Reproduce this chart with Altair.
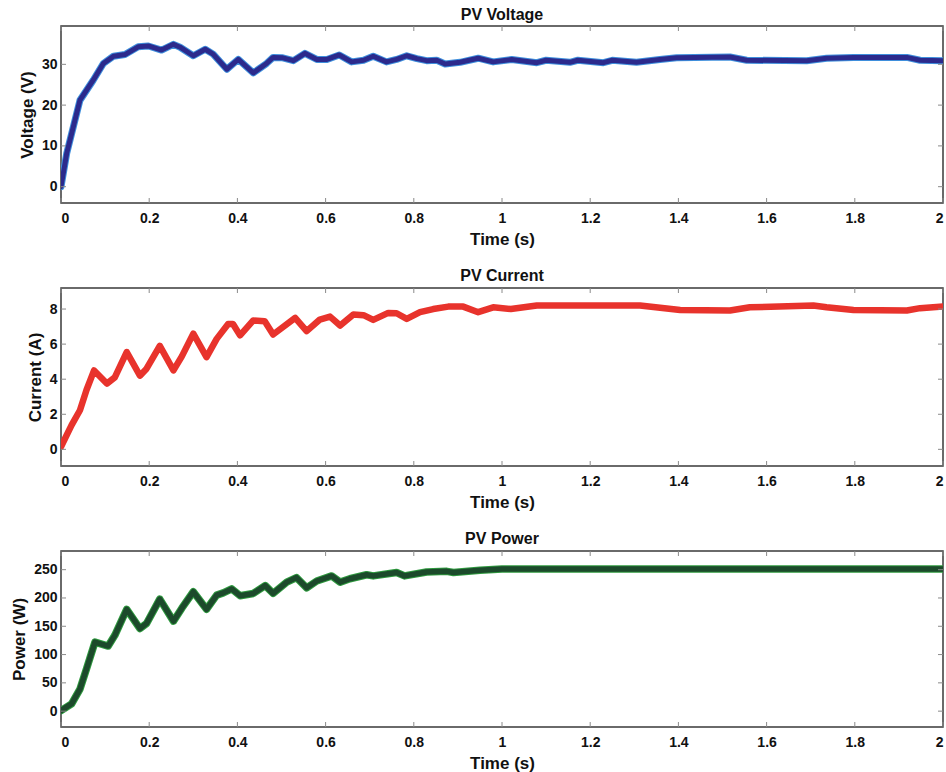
import altair as alt
import pandas as pd

# ---- data ----
t_v = [0, 0.013, 0.043, 0.073, 0.096, 0.119, 0.145, 0.175, 0.198, 0.228, 0.255, 0.27, 0.3, 0.327, 0.345,
       0.376, 0.402, 0.436, 0.466, 0.481, 0.503, 0.527, 0.553, 0.58, 0.603, 0.631, 0.659, 0.686, 0.708,
       0.738, 0.761, 0.784, 0.807, 0.829, 0.852, 0.871, 0.905, 0.946, 0.98, 1.022, 1.079, 1.1, 1.154,
       1.172, 1.23, 1.25, 1.305, 1.358, 1.396, 1.517, 1.555, 1.691, 1.736, 1.797, 1.918, 1.948, 2.0]
voltage = [0, 8.2, 21.2, 26.1, 30.2, 32.0, 32.4, 34.3, 34.5, 33.5, 34.9, 34.2, 32.1, 33.7, 32.5,
           28.8, 31.2, 27.9, 30.2, 31.7, 31.6, 30.9, 32.7, 31.2, 31.2, 32.3, 30.6, 31.0, 32.0,
           30.6, 31.2, 32.1, 31.4, 30.9, 31.0, 30.1, 30.5, 31.5, 30.6, 31.2, 30.4, 31.0, 30.5,
           31.0, 30.4, 31.0, 30.5, 31.2, 31.6, 31.8, 31.0, 30.9, 31.5, 31.7, 31.7, 31.0, 30.9]

t_i = [0, 0.024, 0.043, 0.058, 0.075, 0.104, 0.122, 0.149, 0.179, 0.194, 0.224, 0.255, 0.274, 0.3,
       0.33, 0.353, 0.379, 0.39, 0.406, 0.436, 0.462, 0.481, 0.531, 0.557, 0.587, 0.61, 0.633, 0.663,
       0.686, 0.708, 0.742, 0.761, 0.784, 0.814, 0.844, 0.878, 0.912, 0.946, 0.98, 1.02, 1.079, 1.22,
       1.313, 1.404, 1.517, 1.562, 1.706, 1.736, 1.797, 1.918, 1.948, 2.0]
current = [0.15, 1.38, 2.23, 3.4, 4.5, 3.75, 4.1, 5.55, 4.2, 4.6, 5.9, 4.5, 5.3, 6.6,
           5.26, 6.3, 7.15, 7.15, 6.5, 7.35, 7.3, 6.55, 7.5, 6.74, 7.4, 7.57, 7.06, 7.69,
           7.65, 7.38, 7.78, 7.76, 7.44, 7.82, 8.0, 8.14, 8.14, 7.82, 8.1, 8.0, 8.2, 8.2,
           8.2, 7.95, 7.92, 8.1, 8.2, 8.1, 7.95, 7.92, 8.05, 8.15]

t_p = [0, 0.024, 0.043, 0.058, 0.077, 0.107, 0.122, 0.149, 0.179, 0.194, 0.224, 0.255, 0.274, 0.3,
       0.33, 0.353, 0.368, 0.387, 0.406, 0.436, 0.463, 0.481, 0.512, 0.534, 0.557, 0.58, 0.614,
       0.633, 0.655, 0.693, 0.708, 0.761, 0.779, 0.829, 0.875, 0.89, 0.95, 1.0, 1.5, 2.0]
power = [1, 13, 39, 75, 122, 115, 134, 180, 146, 155, 198, 159, 182, 211,
         180, 205, 209, 216, 204, 208, 222, 208, 228, 236, 218, 230, 239,
         228, 234, 241, 239, 245, 239, 246, 247, 245, 249, 251, 251, 251]

x_ticks = [0, 0.2, 0.4, 0.6, 0.8, 1, 1.2, 1.4, 1.6, 1.8, 2]
v_ticks = [0, 10, 20, 30]
i_ticks = [0, 2, 4, 6, 8]
p_ticks = [0, 50, 100, 150, 200, 250]

FONT = "Liberation Sans, Arial"
W = 882
TICK_COLOR = "#8a8a8a"
TL = 5  # inward tick length in px


def panel(t, y, title, ytitle, ydomain, yticks, colors, widths, h, toff):
    df = pd.DataFrame({"t": t, "y": y})
    xscale = alt.Scale(domain=[0, 2], nice=False, zero=False)
    yscale = alt.Scale(domain=ydomain, nice=False, zero=False)
    xaxis = alt.Axis(values=x_ticks, format="~g", title="Time (s)", grid=False,
                     ticks=False, domain=False, labelPadding=8, titlePadding=6,
                     labelFont=FONT, labelFontSize=14, labelFontWeight="bold",
                     labelColor="#111", titleFont=FONT, titleFontSize=17,
                     titleFontWeight="bold", titleColor="#111")
    yaxis = alt.Axis(values=yticks, title=ytitle, grid=False, ticks=False,
                     domain=False, labelPadding=4, titlePadding=5,
                     labelFont=FONT, labelFontSize=14, labelFontWeight="bold",
                     labelColor="#111", titleFont=FONT, titleFontSize=17,
                     titleFontWeight="bold", titleColor="#111")
    layers = []
    for c, w in zip(colors, widths):
        layers.append(alt.Chart(df).mark_line(color=c, strokeWidth=w, strokeJoin="round",
                                              strokeCap="round", clip=True)
                      .encode(x=alt.X("t:Q", scale=xscale, axis=xaxis),
                              y=alt.Y("y:Q", scale=yscale, axis=yaxis)))
    # inward ticks on all four sides
    xt = pd.DataFrame({"t": x_ticks})
    yt = pd.DataFrame({"y": yticks})
    for y0, y1 in [(0, TL), (h - TL, h)]:
        layers.append(alt.Chart(xt).mark_rule(color=TICK_COLOR, strokeWidth=1).encode(
            x=alt.X("t:Q", scale=xscale, axis=xaxis), y=alt.value(y0), y2=alt.value(y1)))
    for x0, x1 in [(0, TL), (W - TL, W)]:
        layers.append(alt.Chart(yt).mark_rule(color=TICK_COLOR, strokeWidth=1).encode(
            y=alt.Y("y:Q", scale=yscale, axis=yaxis), x=alt.value(x0), x2=alt.value(x1)))
    return alt.layer(*layers).properties(
        width=W, height=h,
        title=alt.TitleParams(title, font=FONT, fontSize=16, fontWeight="bold",
                              color="#111", offset=toff, anchor="middle"))


p1 = panel(t_v, voltage, "PV Voltage", "Voltage (V)", [-4, 39.4], v_ticks,
           ["#3f8fdc", "#2c2a8c"], [7, 5], 177, 3)
p2 = panel(t_i, current, "PV Current", "Current (A)", [-0.95, 9.2], i_ticks,
           ["#e8332c"], [6.5], 178, 4)
p3 = panel(t_p, power, "PV Power", "Power (W)", [-28, 283], p_ticks,
           ["#2f9a3f", "#1c4a2b"], [7.5, 5.5], 176, 4)

chart = alt.vconcat(p1, p2, p3, spacing=18).properties(
    padding={"left": 9, "top": 5, "right": 0, "bottom": 0},
    background="white",
).configure_view(stroke="#3a3a3a", strokeWidth=1.5)

chart.save("out.html", embed_options={"renderer": "svg", "actions": False})
